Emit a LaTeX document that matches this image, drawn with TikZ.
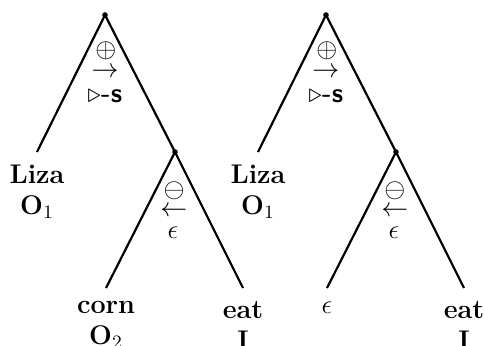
\RequirePackage{fix-cm}
\documentclass[tikz,border=0pt]{standalone}
\usepackage{amssymb}
\begin{document}
\begin{tikzpicture}[x=0.5pt,y=-0.5pt,
  branch/.style={line width=1.1pt},
  dotnode/.style={circle,fill,inner sep=0pt,minimum size=2.8pt},
  leaf/.style={anchor=north,align=center,inner xsep=1pt,inner ysep=6.5pt,
    font=\fontsize{13.5}{15.5}\selectfont\bfseries},
  eleaf/.style={anchor=north,inner xsep=1pt,inner ysep=6.5pt,
    font=\fontsize{13.5}{14}\selectfont},
  lab/.style={inner sep=0pt,font=\fontsize{13.5}{14}\selectfont},
  labbase/.style={lab,anchor=base}]
\useasboundingbox (0,0) rectangle (484,345);

% ---------- Tree 1 ----------
\node[dotnode] (r1) at (105,15) {};
\node[dotnode] (i1) at (175,152) {};
\node[leaf] (liza1) at (37,152) {Liza\\$\mathbf{O}_1$};
\node[leaf] (corn1) at (106,288) {corn\\$\mathbf{O}_2$};
\node[leaf] (eat1) at (243,288) {eat\\I};
\draw[branch] (r1.center) -- (liza1.north);
\draw[branch] (r1.center) -- (i1.center);
\draw[branch] (i1.center) -- (corn1.north);
\draw[branch] (i1.center) -- (eat1.north);
\node[lab] (p1) at (106,51) {$\oplus$};
\node[lab] (ra1) at (105,73) {$\rightarrow$};
\node[labbase] (s1) at (105,102) {$\triangleright$\textsf{\bfseries -s}};
\node[lab] (m1) at (174,191) {$\ominus$};
\node[lab] (la1) at (174,212) {$\leftarrow$};
\node[labbase] (e1) at (173,238) {$\epsilon$};

% ---------- Tree 2 ----------
\node[dotnode] (r2) at (326,15) {};
\node[dotnode] (i2) at (396,152) {};
\node[leaf] (liza2) at (258,152) {Liza\\$\mathbf{O}_1$};
\node[eleaf] (eps2) at (327,288) {$\epsilon$};
\node[leaf] (eat2) at (464,288) {eat\\I};
\draw[branch] (r2.center) -- (liza2.north);
\draw[branch] (r2.center) -- (i2.center);
\draw[branch] (i2.center) -- (eps2.north);
\draw[branch] (i2.center) -- (eat2.north);
\node[lab] (p2) at (327,51) {$\oplus$};
\node[lab] (ra2) at (326,73) {$\rightarrow$};
\node[labbase] (s2) at (326,102) {$\triangleright$\textsf{\bfseries -s}};
\node[lab] (m2) at (395,191) {$\ominus$};
\node[lab] (la2) at (395,212) {$\leftarrow$};
\node[labbase] (e2) at (394,238) {$\epsilon$};
\end{tikzpicture}
\end{document}
